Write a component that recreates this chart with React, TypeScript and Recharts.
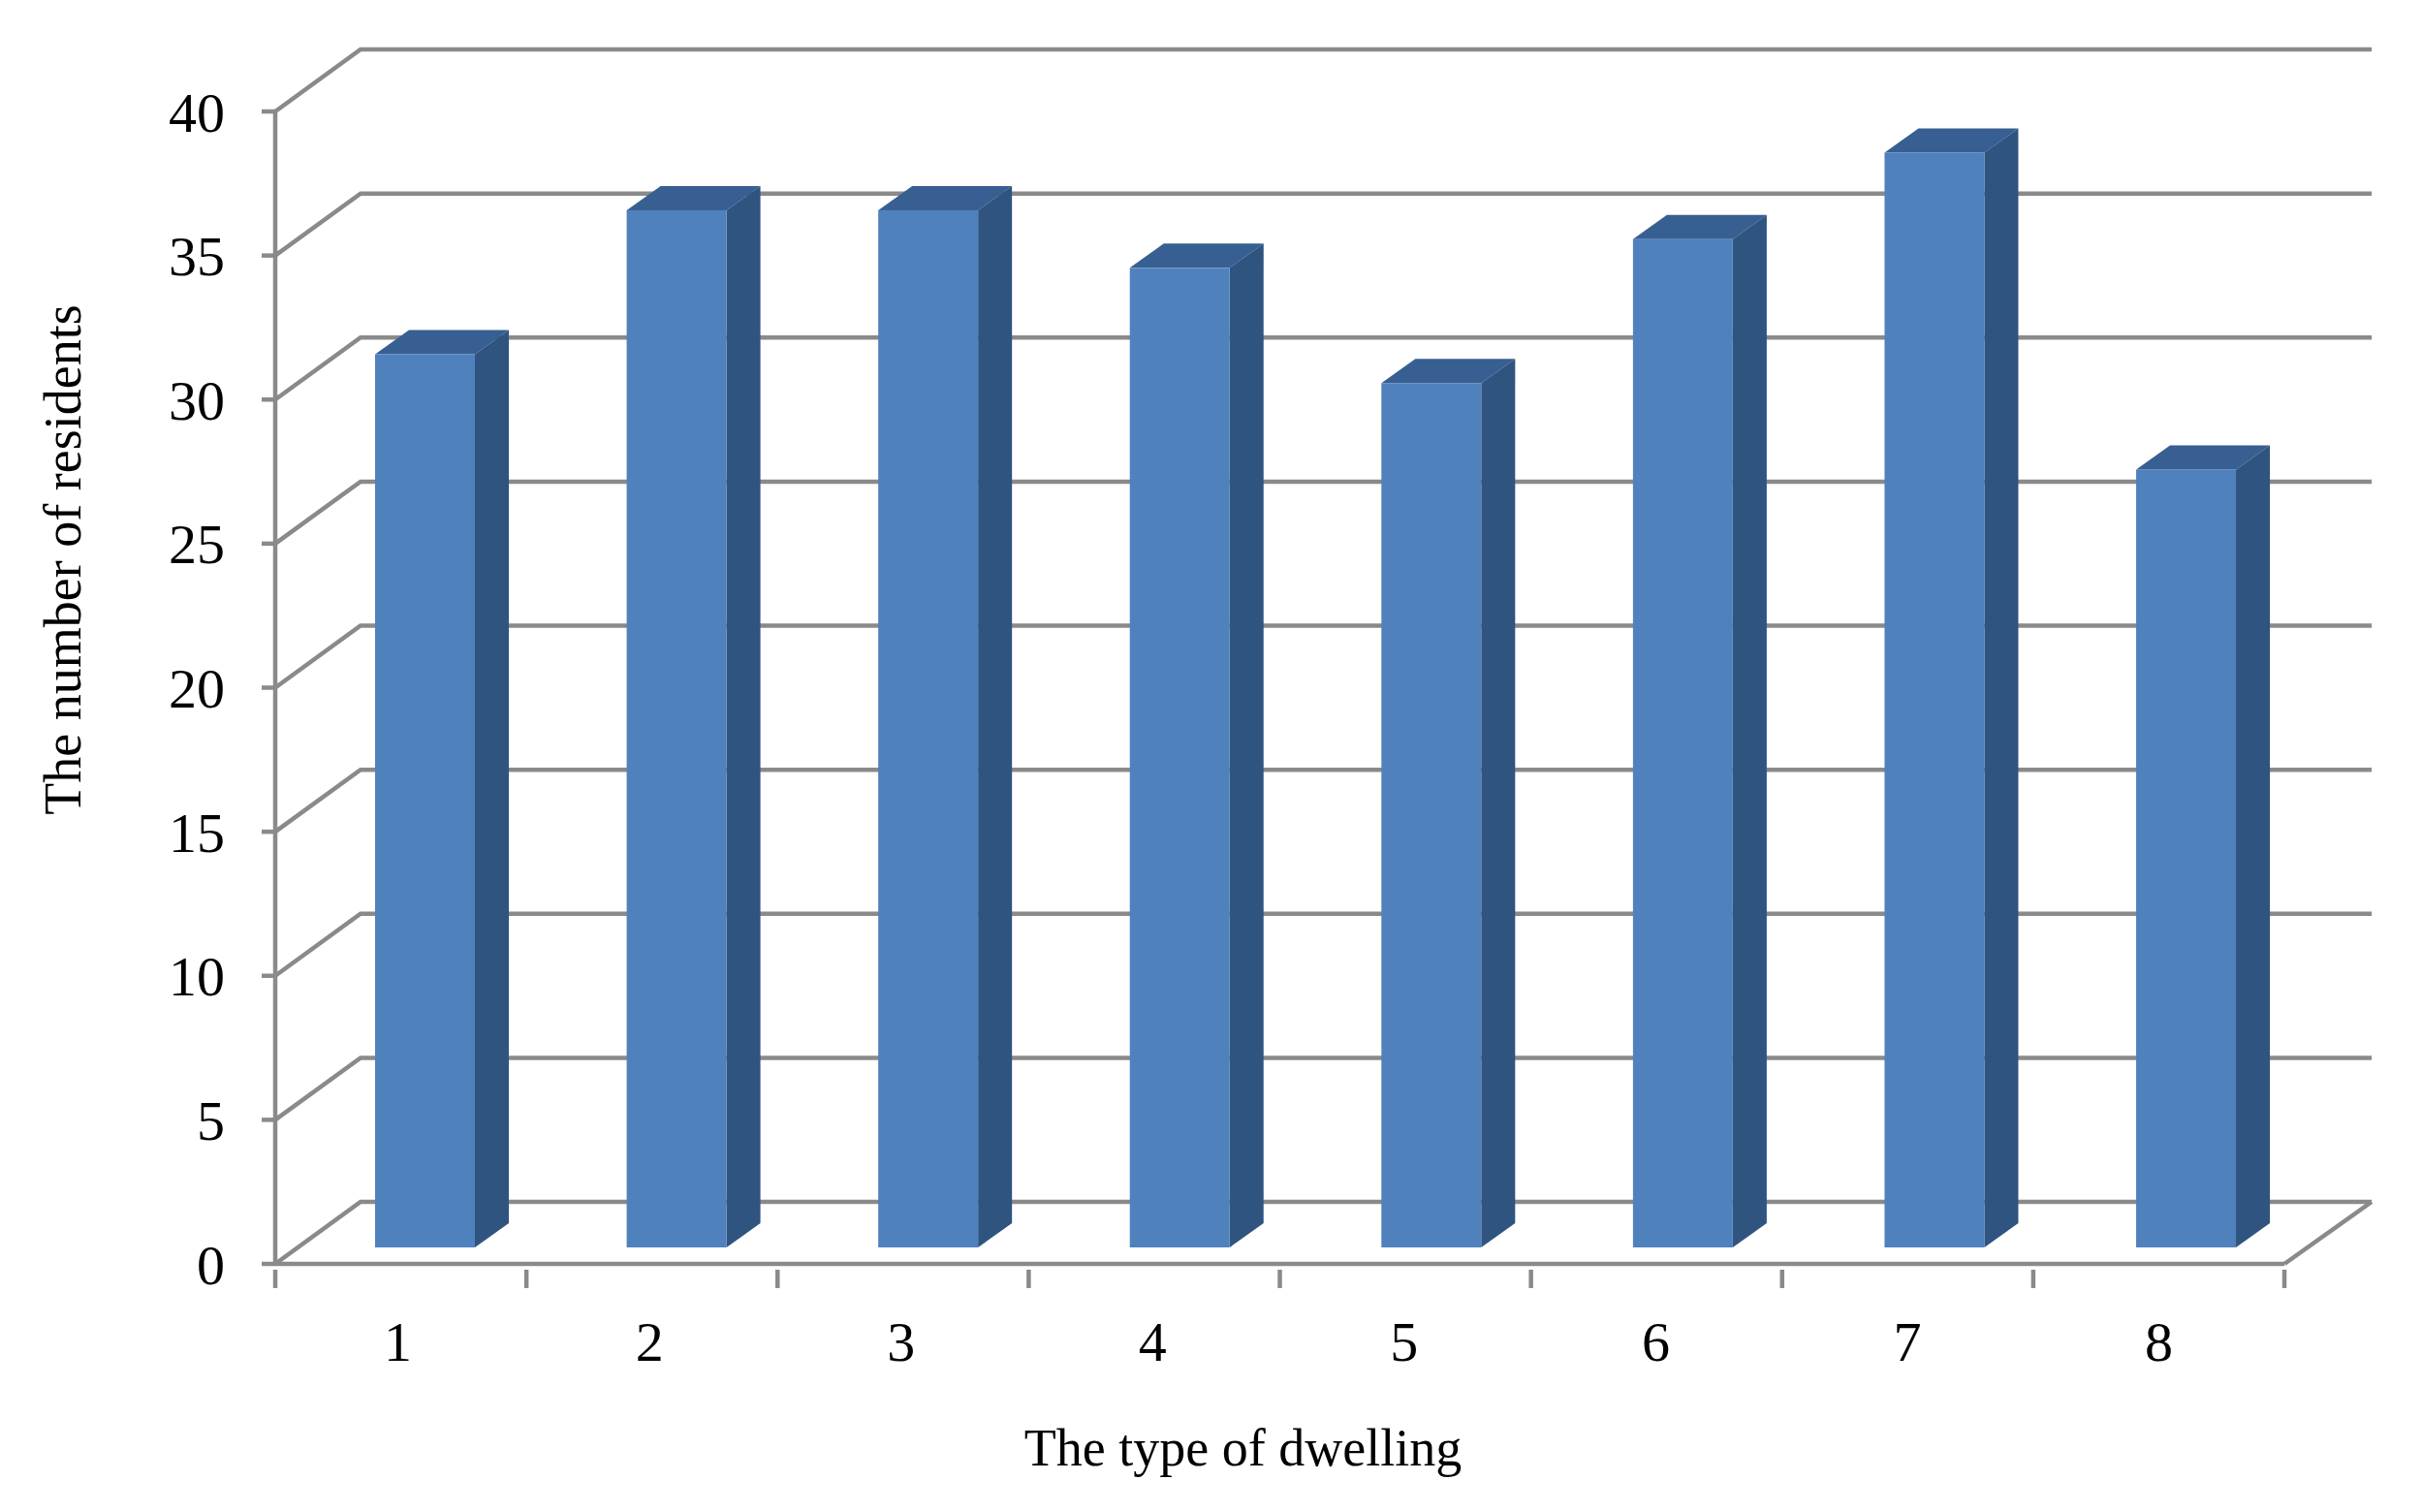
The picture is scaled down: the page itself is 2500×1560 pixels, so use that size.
import { Bar, BarChart, CartesianGrid, XAxis, YAxis } from "recharts";

const dwellingTypes = ["1", "2", "3", "4", "5", "6", "7", "8"];
const residents = [31, 36, 36, 34, 30, 35, 38, 27];
const residentTicks = [0, 5, 10, 15, 20, 25, 30, 35, 40];

const data = dwellingTypes.map((type, index) => ({ type, residents: residents[index] }));

const FONT = "'Liberation Serif', 'Times New Roman', serif";
const GRID = "#8a8a8a";
const LINE_W = 4.5;
const WALL_X = 88;
const WALL_Y = 64;
const WALL_RIGHT = 90;
const BAND = 259.1;
const BAR_DX = 25;
const BAR_DY = -17;
const BAR_DRIFT = 0.45; // bars and labels run a touch wider than the axis bands
const DEPTH_X = 35;
const DEPTH_Y = 25;

// back wall and side wall line for one grid value
function WallLine(props: any) {
  const { x1, x2, y1 } = props;
  const backY = y1 - WALL_Y;
  const isFloor = y1 > 1290;
  return (
    <g key={`wall-${y1}`} fill="none" stroke={GRID} strokeWidth={LINE_W}>
      <path d={`M${x1},${y1}L${x1 + WALL_X},${backY}L${x2 + WALL_RIGHT},${backY}`} />
      {isFloor && <path d={`M${x2},${y1}L${x2 + WALL_RIGHT},${backY}`} />}
    </g>
  );
}

function Bar3D(props: any) {
  const { width, height, index } = props;
  const x = props.x + BAR_DX + index * BAR_DRIFT;
  const y = props.y + BAR_DY;
  const right = x + width;
  const bottom = y + height;
  return (
    <g>
      <path
        d={`M${x},${y}L${x + DEPTH_X},${y - DEPTH_Y}H${right + DEPTH_X}L${right},${y}Z`}
        fill="#375f91"
      />
      <path
        d={`M${right},${y}L${right + DEPTH_X},${y - DEPTH_Y}V${bottom - DEPTH_Y}L${right},${bottom}Z`}
        fill="#2f5480"
      />
      <rect x={x} y={y} width={width} height={height} fill="#4f81bd" />
    </g>
  );
}

// category ticks sit on the band edges, the label in the middle
function CategoryTick(props: any) {
  const { x, y, payload, index } = props;
  const left = x - BAND / 2;
  const isLast = index === dwellingTypes.length - 1;
  return (
    <g>
      <line x1={left} x2={left} y1={y - 2} y2={y + 17} stroke={GRID} strokeWidth={LINE_W} />
      {isLast && (
        <line x1={left + BAND} x2={left + BAND} y1={y - 2} y2={y + 17} stroke={GRID} strokeWidth={LINE_W} />
      )}
      <text
        x={x - 3 + index * BAR_DRIFT}
        y={y + 92}
        textAnchor="middle"
        fontFamily={FONT}
        fontSize={58}
        fill="#000"
      >
        {payload.value}
      </text>
    </g>
  );
}

export default function App() {
  return (
    <div style={{ position: "absolute", left: 0, top: 0, width: 2500, height: 1560, background: "#fff" }}>
      <BarChart
        width={2500}
        height={1560}
        data={data}
        margin={{ top: 115, right: 143, bottom: 156, left: 184 }}
      >
        <CartesianGrid vertical={false} horizontal={WallLine} />
        <XAxis
          dataKey="type"
          height={100}
          axisLine={{ stroke: GRID, strokeWidth: LINE_W }}
          tickLine={false}
          interval={0}
          tick={CategoryTick}
          label={{
            value: "The type of dwelling",
            position: "insideBottom",
            dx: -38,
            dy: 113,
            fontFamily: FONT,
            fontSize: 54,
            fill: "#000",
          }}
        />
        <YAxis
          width={100}
          domain={[0, 40]}
          ticks={residentTicks}
          interval={0}
          axisLine={{ stroke: GRID, strokeWidth: LINE_W }}
          tickLine={{ stroke: GRID, strokeWidth: LINE_W }}
          tickSize={14}
          tickMargin={38}
          tick={{ fontFamily: FONT, fontSize: 58, fill: "#000" }}
          label={{
            value: "The number of residents",
            angle: -90,
            position: "center",
            dx: -170,
            dy: -132,
            fontFamily: FONT,
            fontSize: 54,
            fill: "#000",
          }}
        />
        <Bar dataKey="residents" barSize={103} shape={Bar3D} isAnimationActive={false} />
      </BarChart>
    </div>
  );
}
